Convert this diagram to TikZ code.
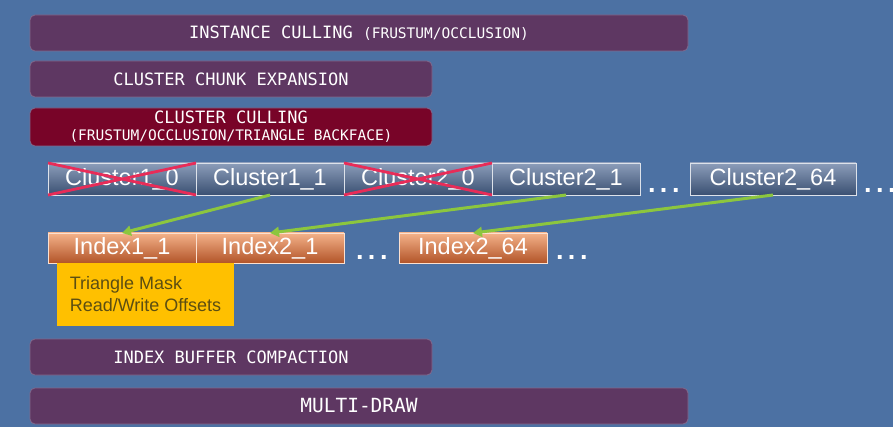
\documentclass[tikz,border=0pt]{standalone}
\usepackage{fontspec}
\setmainfont{Liberation Sans}
\newfontfamily\passfont{DejaVu Sans Mono}
\usetikzlibrary{positioning,arrows.meta}

\definecolor{slidebg}{RGB}{76,113,163}
\definecolor{passpurple}{RGB}{94,55,98}
\definecolor{passred}{RGB}{120,4,40}
\definecolor{passedge}{RGB}{128,104,140}
\definecolor{clustertop}{RGB}{140,157,186}
\definecolor{clusterbot}{RGB}{58,80,114}
\definecolor{indextop}{RGB}{244,178,138}
\definecolor{indexbot}{RGB}{178,84,40}
\definecolor{cullred}{RGB}{232,44,88}
\definecolor{hitgreen}{RGB}{140,198,62}
\definecolor{maskyellow}{RGB}{255,192,0}
\definecolor{masktext}{RGB}{92,78,18}

\tikzset{
  pass/.style={draw=passedge, line width=0.8pt, rounded corners=5pt, fill=passpurple,
    text=white, font=\passfont\fontsize{17}{19}\selectfont, minimum height=36pt,
    anchor=north west},
  cluster/.style={draw=white!70!clustertop, line width=0.8pt, top color=clustertop,
    bottom color=clusterbot, text=white, font=\fontsize{23.5}{26}\selectfont,
    minimum width=148pt, minimum height=32pt, inner xsep=12pt, anchor=north west},
  index/.style={cluster, draw=white!60!indextop, top color=indextop,
    bottom color=indexbot, minimum height=30pt},
  dots/.style={text=white, font=\bfseries\fontsize{27}{27}\selectfont, anchor=base west},
  cull/.style={draw=cullred, line width=2.8pt},
  hit/.style={draw=hitgreen, line width=3pt, -{Triangle[length=9pt,width=10pt]}},
}

\begin{document}
\begin{tikzpicture}[x=1pt, y=-1pt, every node/.style={inner sep=0pt, outer sep=0pt}]

% Dimensions
\def\width{893}
\def\height{427}
\def\wide{658}
\def\narrow{402}

% Slide background
\fill[slidebg] (0,0) rectangle (\width,\height);
\useasboundingbox (0,0) rectangle (\width,\height);

% Pipeline passes
\node[pass, minimum width=\wide pt] (instcull) at (30,15)
  {INSTANCE CULLING {\fontsize{14.5}{16}\selectfont(FRUSTUM/OCCLUSION)}};
\node[pass, minimum width=\narrow pt] (chunkexp) at (30,61) {CLUSTER CHUNK EXPANSION};
\node[pass, fill=passred, minimum width=\narrow pt, minimum height=38pt, align=center]
  (clustcull) at (30,108)
  {CLUSTER CULLING\\[-2pt]{\fontsize{14.5}{16}\selectfont(FRUSTUM/OCCLUSION/TRIANGLE BACKFACE)}};

% Clusters
\node[cluster] (c10) at (48,163) {Cluster1\_0};
\node[cluster, right=0pt of c10] (c11) {Cluster1\_1};
\node[cluster, right=0pt of c11] (c20) {Cluster2\_0};
\node[cluster, right=0pt of c20] (c21) {Cluster2\_1};
\node[cluster, minimum width=166pt] (c264) at (690,163) {Cluster2\_64};
\node[dots] (cdots1) at (648,193) {.\,.\,.};
\node[dots] (cdots2) at (864,193) {.\,.\,.};

% Culled clusters
\foreach \c in {c10,c20} {
  \draw[cull] (\c.north west) -- (\c.south east);
  \draw[cull] (\c.south west) -- (\c.north east);
}

% Indices
\node[index] (i11) at (48,233) {Index1\_1};
\node[index, right=0pt of i11] (i21) {Index2\_1};
\node[index] (i264) at (399,233) {Index2\_64};
\node[dots] (idots1) at (356,260) {.\,.\,.};
\node[dots] (idots2) at (556,260) {.\,.\,.};

% Surviving clusters to their index slots
\draw[hit] (c11.south) -- (i11.north);
\draw[hit] (c21.south) -- (i21.north);
\draw[hit] (c264.south) -- (i264.north);

% Per-index payload
\node[fill=maskyellow, text=masktext, font=\fontsize{18}{22}\selectfont, align=left,
  anchor=north west, minimum width=177pt, minimum height=63pt, inner xsep=11pt]
  (mask) at (57,263) {Triangle Mask\\Read/Write Offsets};

% Later passes
\node[pass, minimum width=\narrow pt] (compact) at (30,339) {INDEX BUFFER COMPACTION};
\node[pass, minimum width=\wide pt, font=\passfont\fontsize{19.5}{21}\selectfont]
  (multidraw) at (30,388) {MULTI-DRAW};

\end{tikzpicture}
\end{document}
